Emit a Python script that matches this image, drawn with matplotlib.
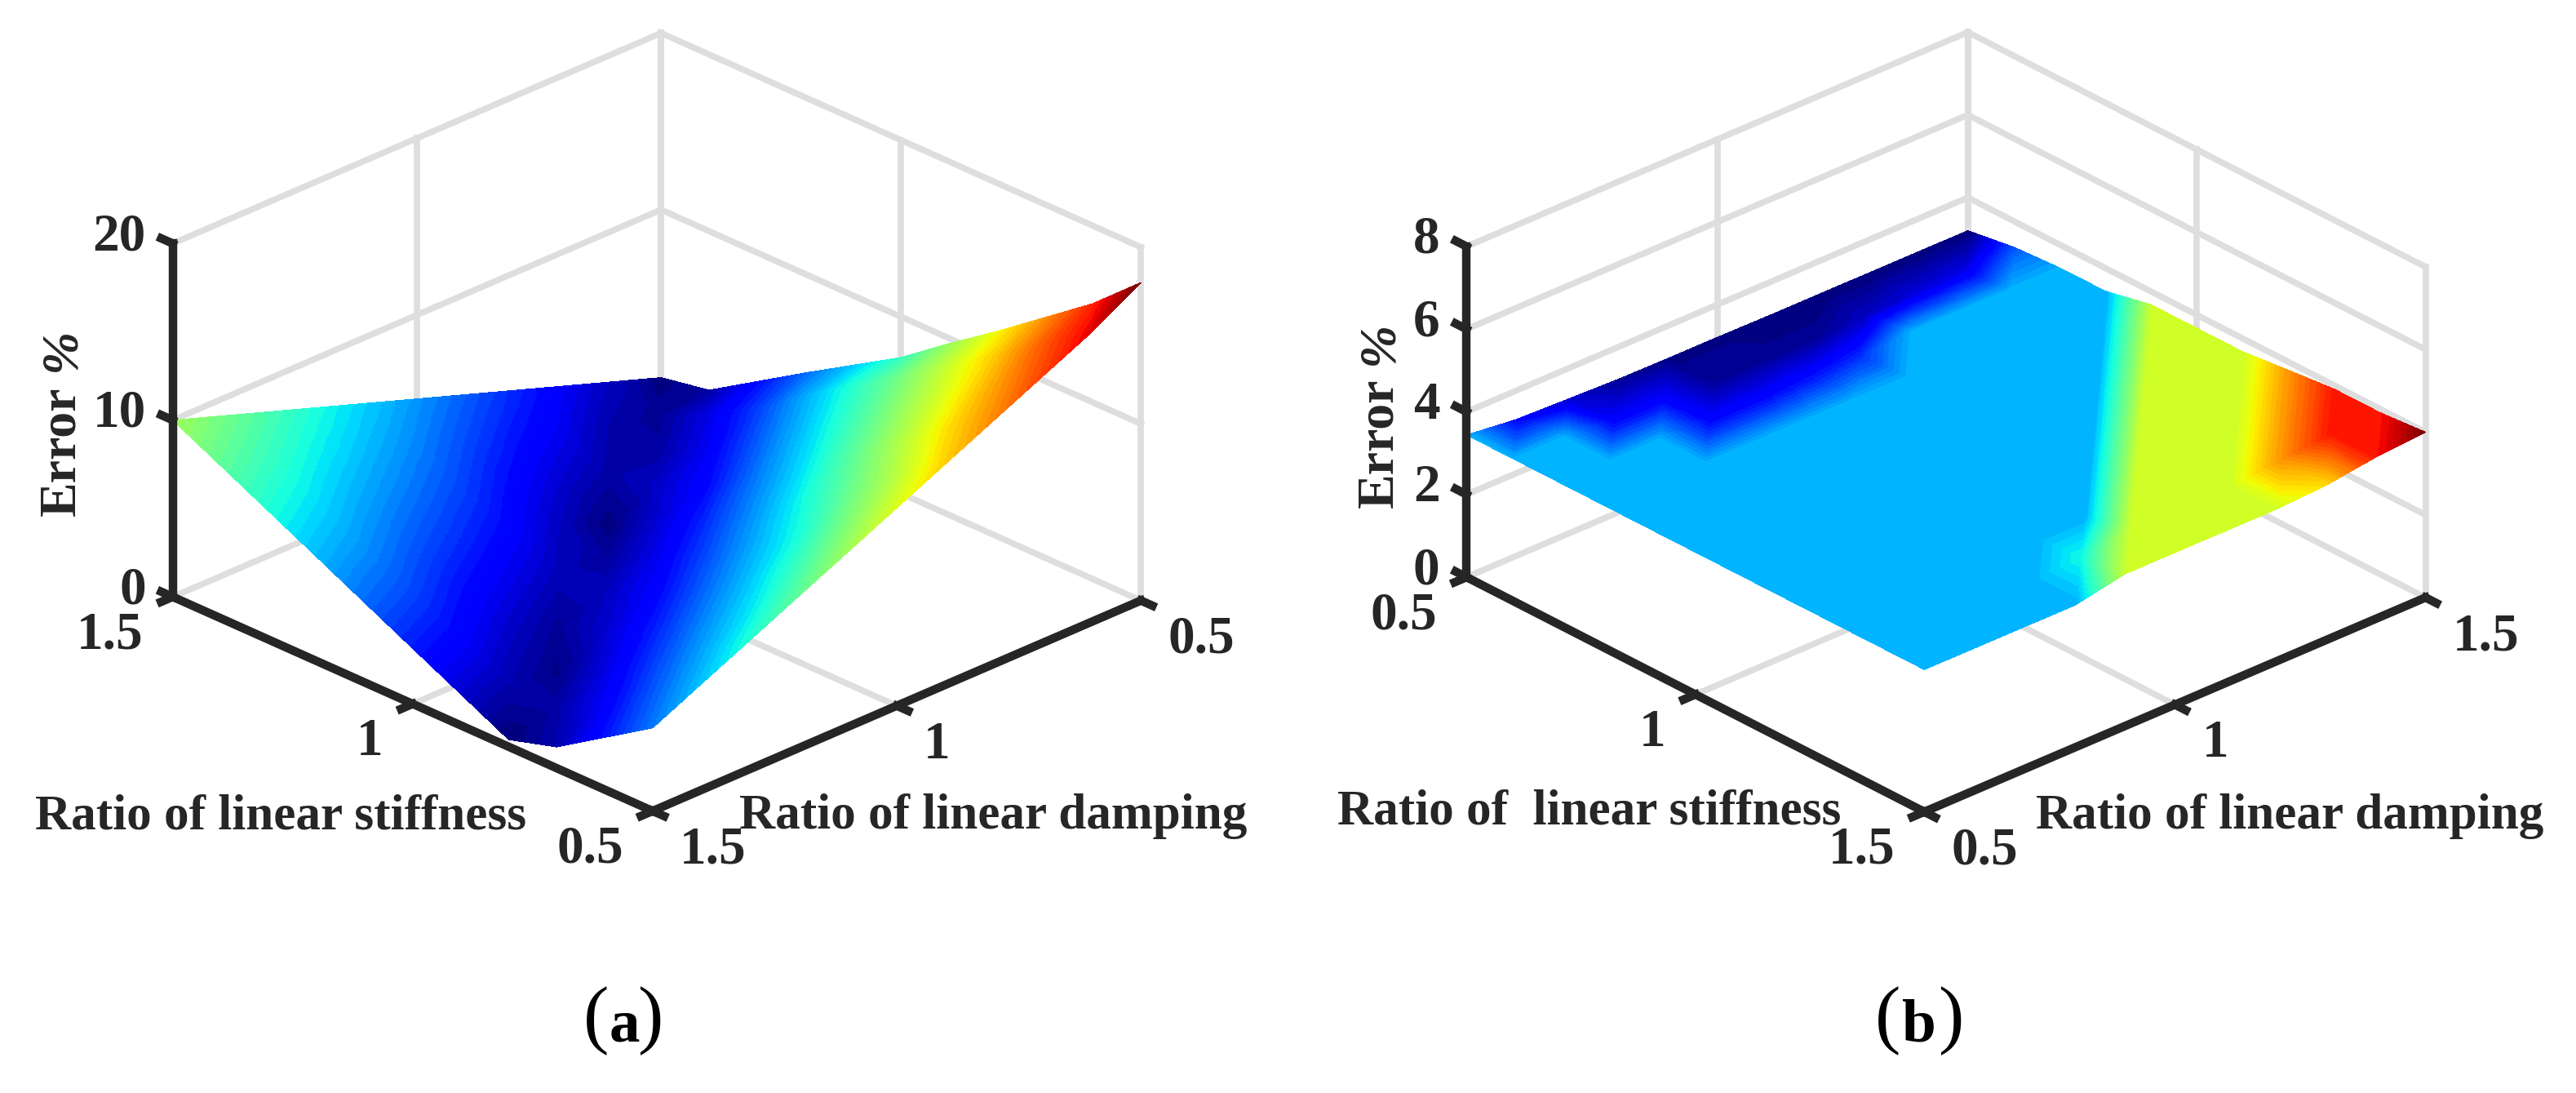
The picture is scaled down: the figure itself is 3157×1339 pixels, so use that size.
#!/usr/bin/env python3

# Identification error of the linear stiffness and damping ratios, two surfaces
# side by side. Values are given on a 0.1 grid, shaded like interpolated facets.

import numpy as np
import matplotlib
matplotlib.use("Agg")
import matplotlib.pyplot as plt
import matplotlib.tri as mtri
from mpl_toolkits.mplot3d import proj3d
from matplotlib.colors import Normalize

W, H = 3157, 1339

stiffness = [0.5, 0.6, 0.7, 0.8, 0.9, 1.0, 1.1, 1.2, 1.3, 1.4, 1.5]
damping = [0.5, 0.6, 0.7, 0.8, 0.9, 1.0, 1.1, 1.2, 1.3, 1.4, 1.5]
ratio_ticks = [0.5, 1.0, 1.5]
ratio_labels = ["0.5", "1", "1.5"]
z_ticks_a = [0, 10, 20]
z_ticks_b = [0, 2, 4, 6, 8]

# rows: damping 0.5 to 1.5, columns: stiffness 0.5 to 1.5
error_a = [
    [18.0, 15.6, 13.6, 11.6, 9.7, 7.7, 6.05, 4.4, 2.7, 1.0, 0.5],
    [16.4, 14.6, 12.6, 10.8, 9.0, 7.3, 5.5, 3.6, 2.0, 0.8, 1.45],
    [15.1, 13.3, 11.4, 9.6, 7.8, 5.96, 4.1, 2.3, 1.07, 1.17, 2.4],
    [13.8, 12.1, 10.2, 8.33, 6.4, 4.6, 2.7, 1.6, 1.1, 2.22, 3.35],
    [12.5, 10.5, 8.7, 6.9, 5.1, 3.3, 1.8, 0.5, 1.75, 3.03, 4.3],
    [11.2, 9.24, 7.2, 5.52, 3.8, 2.2, 0.97, 1.48, 2.73, 3.99, 5.25],
    [9.9, 7.9, 6.04, 4.3, 2.6, 1.5, 1.4, 2.6, 3.8, 5.0, 6.2],
    [8.6, 6.6, 4.87, 3.13, 1.73, 0.88, 2.13, 3.4, 4.64, 5.9, 7.15],
    [7.3, 5.44, 3.67, 2.0, 0.6, 1.62, 2.91, 4.21, 5.5, 6.8, 8.1],
    [6.0, 4.2, 2.4, 1.06, 1.28, 2.58, 3.87, 5.17, 6.46, 7.76, 9.05],
    [4.7, 2.95, 1.2, 0.4, 1.77, 3.14, 4.51, 5.89, 7.26, 8.63, 10.0],
]

# rows: damping 0.5 to 1.5, columns: stiffness 0.5 to 1.5
error_b = [
    [3.44, 3.44, 3.44, 3.44, 3.44, 3.44, 3.44, 3.44, 3.44, 3.44, 3.44],
    [3.30, 3.44, 3.44, 3.44, 3.44, 3.44, 3.44, 3.44, 3.44, 3.44, 3.44],
    [3.26, 3.30, 3.44, 3.44, 3.44, 3.44, 3.44, 3.44, 3.44, 3.44, 3.44],
    [3.22, 3.30, 3.31, 3.44, 3.44, 3.44, 3.44, 3.44, 3.44, 3.44, 3.44],
    [3.21, 3.22, 3.31, 3.44, 3.44, 3.44, 3.44, 3.44, 3.44, 3.50, 3.68],
    [3.21, 3.22, 3.32, 3.44, 3.44, 3.44, 3.44, 3.44, 3.44, 3.68, 3.68],
    [3.20, 3.22, 3.34, 3.44, 3.44, 3.44, 3.44, 3.44, 3.68, 3.68, 3.68],
    [3.20, 3.25, 3.44, 3.44, 3.44, 3.44, 3.44, 3.68, 3.68, 3.68, 3.68],
    [3.20, 3.27, 3.44, 3.44, 3.44, 3.44, 3.68, 3.68, 3.68, 3.80, 3.74],
    [3.20, 3.28, 3.44, 3.44, 3.44, 3.68, 3.68, 3.68, 3.80, 3.91, 3.91],
    [3.20, 3.37, 3.44, 3.44, 3.68, 3.68, 3.68, 3.80, 3.91, 3.91, 4.00],
]

GRID = "#dedede"
DARK = "#262626"
FONT = "Liberation Serif"

plt.rcParams["font.family"] = [FONT, "DejaVu Serif"]
plt.rcParams["font.weight"] = "bold"

jet = plt.get_cmap("jet", 64)


def px_rect(cx, cy, size=1400):
    # square axes whose projected origin lands on (cx, cy), y measured from the top
    f = 0.095 / 0.185
    left = cx - f * size
    bottom = (H - cy) - f * size
    return [left / W, bottom / H, size / W, size / H]


def facet_mesh(err):
    # split each grid cell along the same diagonal and evaluate on a fine mesh
    n = len(stiffness)
    sg, dg = np.meshgrid(stiffness, damping)
    tris = []
    for i in range(n - 1):
        for j in range(n - 1):
            a = i * n + j
            tris.append([a, a + n, a + 1])
            tris.append([a + n, a + n + 1, a + 1])
    tri = mtri.Triangulation(sg.ravel(), dg.ravel(), tris)
    interp = mtri.LinearTriInterpolator(tri, np.asarray(err, dtype=float).ravel())
    s = np.linspace(0.5 + 1e-9, 1.5 - 1e-9, 301)
    d = np.linspace(0.5 + 1e-9, 1.5 - 1e-9, 301)
    sf, df = np.meshgrid(s, d)
    return sf, df, np.ma.filled(interp(sf, df), np.nan)


def draw_panel(rect, elev, azim, box, zoom, err, z_ticks, x_axis_y, y_axis_x, z_corner, back_x, back_y):
    ax = fig.add_axes(rect, projection="3d", computed_zorder=False)
    ax.set_proj_type("ortho")
    ax.view_init(elev=elev, azim=azim)
    ax.set_box_aspect(box, zoom=zoom)
    ax.set_axis_off()
    zmax = z_ticks[-1]

    def grid_line(xs, ys, zs):
        ax.plot(xs, ys, zs, color=GRID, lw=5.5, zorder=1, solid_capstyle="projecting")

    def axis_line(xs, ys, zs):
        ax.plot(xs, ys, zs, color=DARK, lw=7.5, zorder=5, solid_capstyle="projecting")

    # floor and the two back walls
    for t in ratio_ticks:
        grid_line([t, t], [0.5, 1.5], [0, 0])
        grid_line([t, t], [back_y, back_y], [0, zmax])
        grid_line([0.5, 1.5], [t, t], [0, 0])
        grid_line([back_x, back_x], [t, t], [0, zmax])
    for z in z_ticks[1:]:
        grid_line([0.5, 1.5], [back_y, back_y], [z, z])
        grid_line([back_x, back_x], [0.5, 1.5], [z, z])

    sf, df, zf = facet_mesh(err)
    flat = np.asarray(err, dtype=float)
    norm = Normalize(flat.min(), flat.max())
    ax.plot_surface(sf, df, zf, rstride=1, cstride=1, facecolors=jet(norm(zf)),
                    shade=False, linewidth=0, antialiased=False, zorder=3)

    # dark axes with short outward ticks
    tick = 0.024
    sx = np.sign(z_corner[0] - 1.0)
    sy = np.sign(x_axis_y - 1.0)
    axis_line([0.5, 1.5], [x_axis_y, x_axis_y], [0, 0])
    axis_line([y_axis_x, y_axis_x], [0.5, 1.5], [0, 0])
    axis_line([z_corner[0], z_corner[0]], [z_corner[1], z_corner[1]], [0, zmax])
    for t in ratio_ticks:
        axis_line([t, t], [x_axis_y, x_axis_y + sy * tick], [0, 0])
        s = np.sign(y_axis_x - 1.0)
        axis_line([y_axis_x, y_axis_x + s * tick], [t, t], [0, 0])
    for z in z_ticks:
        axis_line([z_corner[0], z_corner[0] + sx * tick], [z_corner[1], z_corner[1]], [z, z])

    ax.set_xlim(0.5, 1.5)
    ax.set_ylim(0.5, 1.5)
    ax.set_zlim(0, zmax)

    # tick labels anchored on the projected tick positions
    M = ax.get_proj()

    def tick_label(x, y, z, text, dx, dy, ha):
        xp, yp, _ = proj3d.proj_transform(x, y, z, M)
        ax.annotate(text, xy=(xp, yp), xytext=(dx, dy), textcoords="offset pixels",
                    ha=ha, va="center", fontsize=47, color=DARK, annotation_clip=False)

    for t, lab in zip(ratio_ticks, ratio_labels):
        tick_label(t, x_axis_y, 0, lab, -36, -47, "right")
        tick_label(y_axis_x, t, 0, lab, 33, -48, "left")
    for z in z_ticks:
        tick_label(z_corner[0], z_corner[1], z, str(z), -33, 8, "right")
    return ax


def label(x, y, text, color_=DARK, **kw):
    fig.text(x / W, 1 - y / H, text, ha="center", va="center", color=color_, **kw)


def caption(left, letter, mid, right):
    label(left, 1251, "(", fontsize=68, weight="normal", color_="k")
    label(mid, 1257, letter, fontsize=54, color_="k")
    label(right, 1251, ")", fontsize=68, weight="normal", color_="k")


fig = plt.figure(figsize=(W / 100, H / 100), dpi=100)

draw_panel(px_rect(805, 517), 26.0, 135.5, (1, 1, 0.574), 0.888, error_a, z_ticks_a,
           x_axis_y=1.5, y_axis_x=0.5, z_corner=(1.5, 1.5), back_x=1.5, back_y=0.5)
draw_panel(px_rect(2385, 517), 27.9, -42.4, (1, 1, 0.551), 0.8755, error_b, z_ticks_b,
           x_axis_y=0.5, y_axis_x=1.5, z_corner=(0.5, 0.5), back_x=0.5, back_y=1.5)

label(344, 1000, "Ratio of linear stiffness", fontsize=44)
label(1217, 1000, "Ratio of linear damping", fontsize=44)
label(76, 553, "Error", fontsize=46, rotation=90)
label(76, 428, "%", fontsize=46, rotation=90, style="italic")
caption(731, "a", 765, 798)

label(1948, 995, "Ratio of  linear stiffness", fontsize=44)
label(2806, 1000, "Ratio of linear damping", fontsize=44)
label(1691, 543, "Error", fontsize=46, rotation=90)
label(1691, 420, "%", fontsize=46, rotation=90, style="italic")
caption(2314, "b", 2352, 2392)

fig.savefig("out.png", dpi=100)
